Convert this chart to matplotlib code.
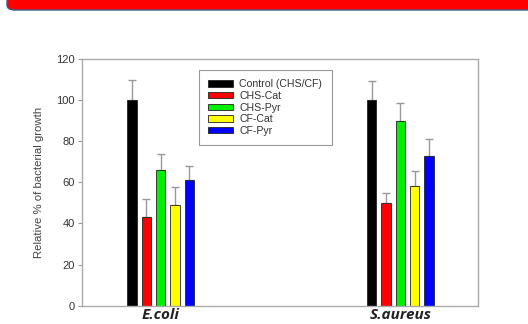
"""Relative bacterial growth for the chitosan / catechol / pyrogallol treatments."""

import matplotlib

matplotlib.use("Agg")
import matplotlib.pyplot as plt
import numpy as np
from matplotlib.patches import FancyBboxPatch

BACTERIA = ["E.coli", "S.aureus"]
TREATMENTS = ["Control (CHS/CF)", "CHS-Cat", "CHS-Pyr", "CF-Cat", "CF-Pyr"]
COLORS = ["#000000", "#ff0000", "#00ee00", "#ffff00", "#0000ff"]

# rows: treatment, columns: bacterium
GROWTH = [
    [100, 100],
    [43, 50],
    [66, 90],
    [49, 58],
    [61, 73],
]
ERRORS = [
    [10, 9.5],
    [9, 5],
    [8, 8.5],
    [8.5, 7.5],
    [7, 8],
]

plt.rcParams["font.family"] = ["Liberation Sans", "DejaVu Sans"]

fig = plt.figure(figsize=(5.28, 3.24), dpi=100)

# red banner across the top of the slide (only its lower edge is visible)
banner = FancyBboxPatch((7 / 528, 1 - 10 / 324), 1.2, 0.2,
                        boxstyle="round,pad=0,rounding_size=0.015",
                        transform=fig.transFigure, facecolor="#ff0000",
                        edgecolor="#3b5b8f", linewidth=1.0, clip_on=False)
fig.patches.append(banner)

ax = fig.add_axes([82 / 528, 18.3 / 324, 396 / 528, 246.7 / 324])

centers = np.arange(1, len(BACTERIA) + 1)
step = 0.06
width = 0.039
for i, (name, color) in enumerate(zip(TREATMENTS, COLORS)):
    x = centers + (i - 2) * step
    ax.bar(x, GROWTH[i], width=width, color=color, edgecolor="#222222",
           linewidth=0.6, label=name, zorder=2)
    ax.errorbar(x, GROWTH[i], yerr=[np.zeros(len(BACTERIA)), ERRORS[i]],
                fmt="none", ecolor="#999999", elinewidth=1.0, capsize=3,
                capthick=1.0, zorder=1)

ax.set_xlim(0.672, 2.324)
ax.set_ylim(0, 120)
ax.set_yticks(range(0, 121, 20))
ax.set_xticks(centers)
ax.set_xticklabels(BACTERIA, fontsize=11, fontweight="bold", fontstyle="italic",
                   family=["Open Sans", "DejaVu Sans"], color="#222222")
ax.tick_params(axis="x", length=0, pad=2)
ax.tick_params(axis="y", length=3, width=0.8, color="#999999", labelsize=8,
               labelcolor="#333333", pad=2)
for spine in ax.spines.values():
    spine.set_color("#aaaaaa")
    spine.set_linewidth(1.0)
ax.set_ylabel("Relative % of bacterial growth", fontsize=8.2, color="#444444", labelpad=9)

leg = ax.legend(loc="upper left", bbox_to_anchor=(0.295, 0.956), borderaxespad=0,
                fontsize=7.6, handlelength=2.35, handleheight=0.55, labelspacing=0.15,
                borderpad=0.9, handletextpad=0.6, fancybox=False,
                edgecolor="#999999", framealpha=1)
leg.get_frame().set_linewidth(0.8)
for text in leg.get_texts():
    text.set_color("#333333")

fig.savefig("out.png", dpi=100)
